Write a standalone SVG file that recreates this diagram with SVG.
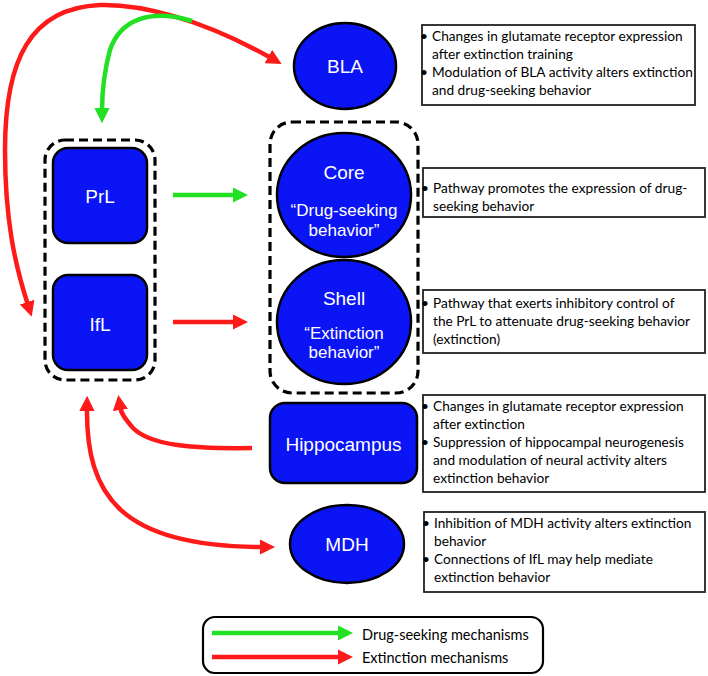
<svg xmlns="http://www.w3.org/2000/svg" width="708" height="676" viewBox="0 0 708 676">
<style>
.node{fill:#0a14f5;stroke:#000;stroke-width:2.5}
.dash{fill:none;stroke:#000;stroke-width:3.2;stroke-dasharray:9 5}
.lbl{font-family:"Liberation Sans",Arial,sans-serif;font-size:19px;fill:#fff;text-anchor:middle}
.sub{font-family:"Liberation Sans",Arial,sans-serif;font-size:17px;fill:#fff;text-anchor:middle}
.box{fill:#fff;stroke:#222;stroke-width:1.8}
.note{font-family:Lato,"Liberation Sans",sans-serif;font-size:13.7px;fill:#000}
.leg{font-family:Lato,"Liberation Sans",sans-serif;font-size:14.5px;fill:#000}
.red{fill:none;stroke:#ff1a1a;stroke-width:4.5}
.green{fill:none;stroke:#22e022;stroke-width:4.5}
</style>
<defs>
<marker id="ar" viewBox="0 0 10 10" refX="2" refY="5" markerWidth="3.4" markerHeight="3.4" orient="auto-start-reverse" markerUnits="strokeWidth"><path d="M0,0 L10,5 L0,10 z" fill="#ff1a1a"/></marker>
<marker id="ag" viewBox="0 0 10 10" refX="2" refY="5" markerWidth="3.4" markerHeight="3.4" orient="auto-start-reverse" markerUnits="strokeWidth"><path d="M0,0 L10,5 L0,10 z" fill="#22e022"/></marker>
</defs>

<g id="connectors">
<path class="red" d="M271,58 C200,18 140,4 100,5 C30,8 5,60 5,150 C5,220 15,265 28,305" marker-start="url(#ar)" marker-end="url(#ar)"/>
<path class="green" d="M192,21 C150,8 120,20 110,50 C104,72 102,92 102,111" marker-end="url(#ag)"/>
<path class="green" d="M173,195 L236,195" marker-end="url(#ag)"/>
<path class="red" d="M173,322 L236,322" marker-end="url(#ar)"/>
<path class="red" d="M252,448 C190,449 150,445 133,428 C126,420 121,414 120,407" marker-end="url(#ar)"/>
<path class="red" d="M87,408 C86,495 120,547 263,547" marker-start="url(#ar)" marker-end="url(#ar)"/>
</g>

<g id="group-left"><rect class="dash" x="45" y="140" width="110" height="240" rx="20"/></g>
<g id="group-right"><rect class="dash" x="270" y="122" width="148" height="271" rx="22"/></g>

<g id="node-bla"><ellipse class="node" cx="345" cy="66" rx="51" ry="43"/><text class="lbl" x="345" y="73">BLA</text></g>
<g id="node-prl"><rect class="node" x="53" y="148" width="94" height="95" rx="15"/><text class="lbl" x="100" y="203">PrL</text></g>
<g id="node-ifl"><rect class="node" x="53" y="275" width="94" height="95" rx="15"/><text class="lbl" x="100" y="331">IfL</text></g>
<g id="node-core"><ellipse class="node" cx="344" cy="195" rx="67" ry="62"/><text class="lbl" x="344" y="179">Core</text><text class="sub" x="344" y="216">“Drug-seeking</text><text class="sub" x="344" y="236">behavior”</text></g>
<g id="node-shell"><ellipse class="node" cx="344" cy="322" rx="67" ry="62"/><text class="lbl" x="344" y="305">Shell</text><text class="sub" x="344" y="339">“Extinction</text><text class="sub" x="344" y="358">behavior”</text></g>
<g id="node-hippocampus"><rect class="node" x="270" y="403" width="147" height="80" rx="15"/><text class="lbl" x="343.5" y="451">Hippocampus</text></g>
<g id="node-mdh"><ellipse class="node" cx="347" cy="544" rx="57" ry="39"/><text class="lbl" x="347" y="551">MDH</text></g>

<g id="note-bla"><rect class="box" x="422" y="25" width="273" height="80"/>
<text class="note"><tspan x="420" y="41">•</tspan><tspan x="432" y="41">Changes in glutamate receptor expression</tspan><tspan x="432" y="59">after extinction training</tspan><tspan x="420" y="77">•</tspan><tspan x="432" y="77">Modulation of BLA activity alters extinction</tspan><tspan x="432" y="95">and drug-seeking behavior</tspan></text></g>
<g id="note-core"><rect class="box" x="423" y="168" width="282" height="49"/>
<text class="note"><tspan x="421" y="193">•</tspan><tspan x="433" y="193">Pathway promotes the expression of drug-</tspan><tspan x="433" y="211">seeking behavior</tspan></text></g>
<g id="note-shell"><rect class="box" x="423" y="290" width="282" height="63"/>
<text class="note"><tspan x="421" y="308">•</tspan><tspan x="433" y="308">Pathway that exerts inhibitory control of</tspan><tspan x="433" y="326">the PrL to attenuate drug-seeking behavior</tspan><tspan x="433" y="344">(extinction)</tspan></text></g>
<g id="note-hippocampus"><rect class="box" x="423" y="395" width="282" height="97"/>
<text class="note"><tspan x="421" y="411">•</tspan><tspan x="433" y="411">Changes in glutamate receptor expression</tspan><tspan x="433" y="429">after extinction</tspan><tspan x="421" y="447">•</tspan><tspan x="433" y="447">Suppression of hippocampal neurogenesis</tspan><tspan x="433" y="465">and modulation of neural activity alters</tspan><tspan x="433" y="483">extinction behavior</tspan></text></g>
<g id="note-mdh"><rect class="box" x="424" y="512" width="281" height="80"/>
<text class="note"><tspan x="422" y="528">•</tspan><tspan x="434" y="528">Inhibition of MDH activity alters extinction</tspan><tspan x="434" y="546">behavior</tspan><tspan x="422" y="564">•</tspan><tspan x="434" y="564">Connections of IfL may help mediate</tspan><tspan x="434" y="582">extinction behavior</tspan></text></g>

<g id="legend"><rect x="203" y="617" width="340" height="56" rx="12" fill="#fff" stroke="#000" stroke-width="2.2"/>
<path class="green" d="M212,633 L341,633" marker-end="url(#ag)"/>
<path class="red" d="M212,657 L341,657" marker-end="url(#ar)"/>
<text class="leg" x="362" y="640">Drug-seeking mechanisms</text>
<text class="leg" x="362" y="663">Extinction mechanisms</text></g>
</svg>
